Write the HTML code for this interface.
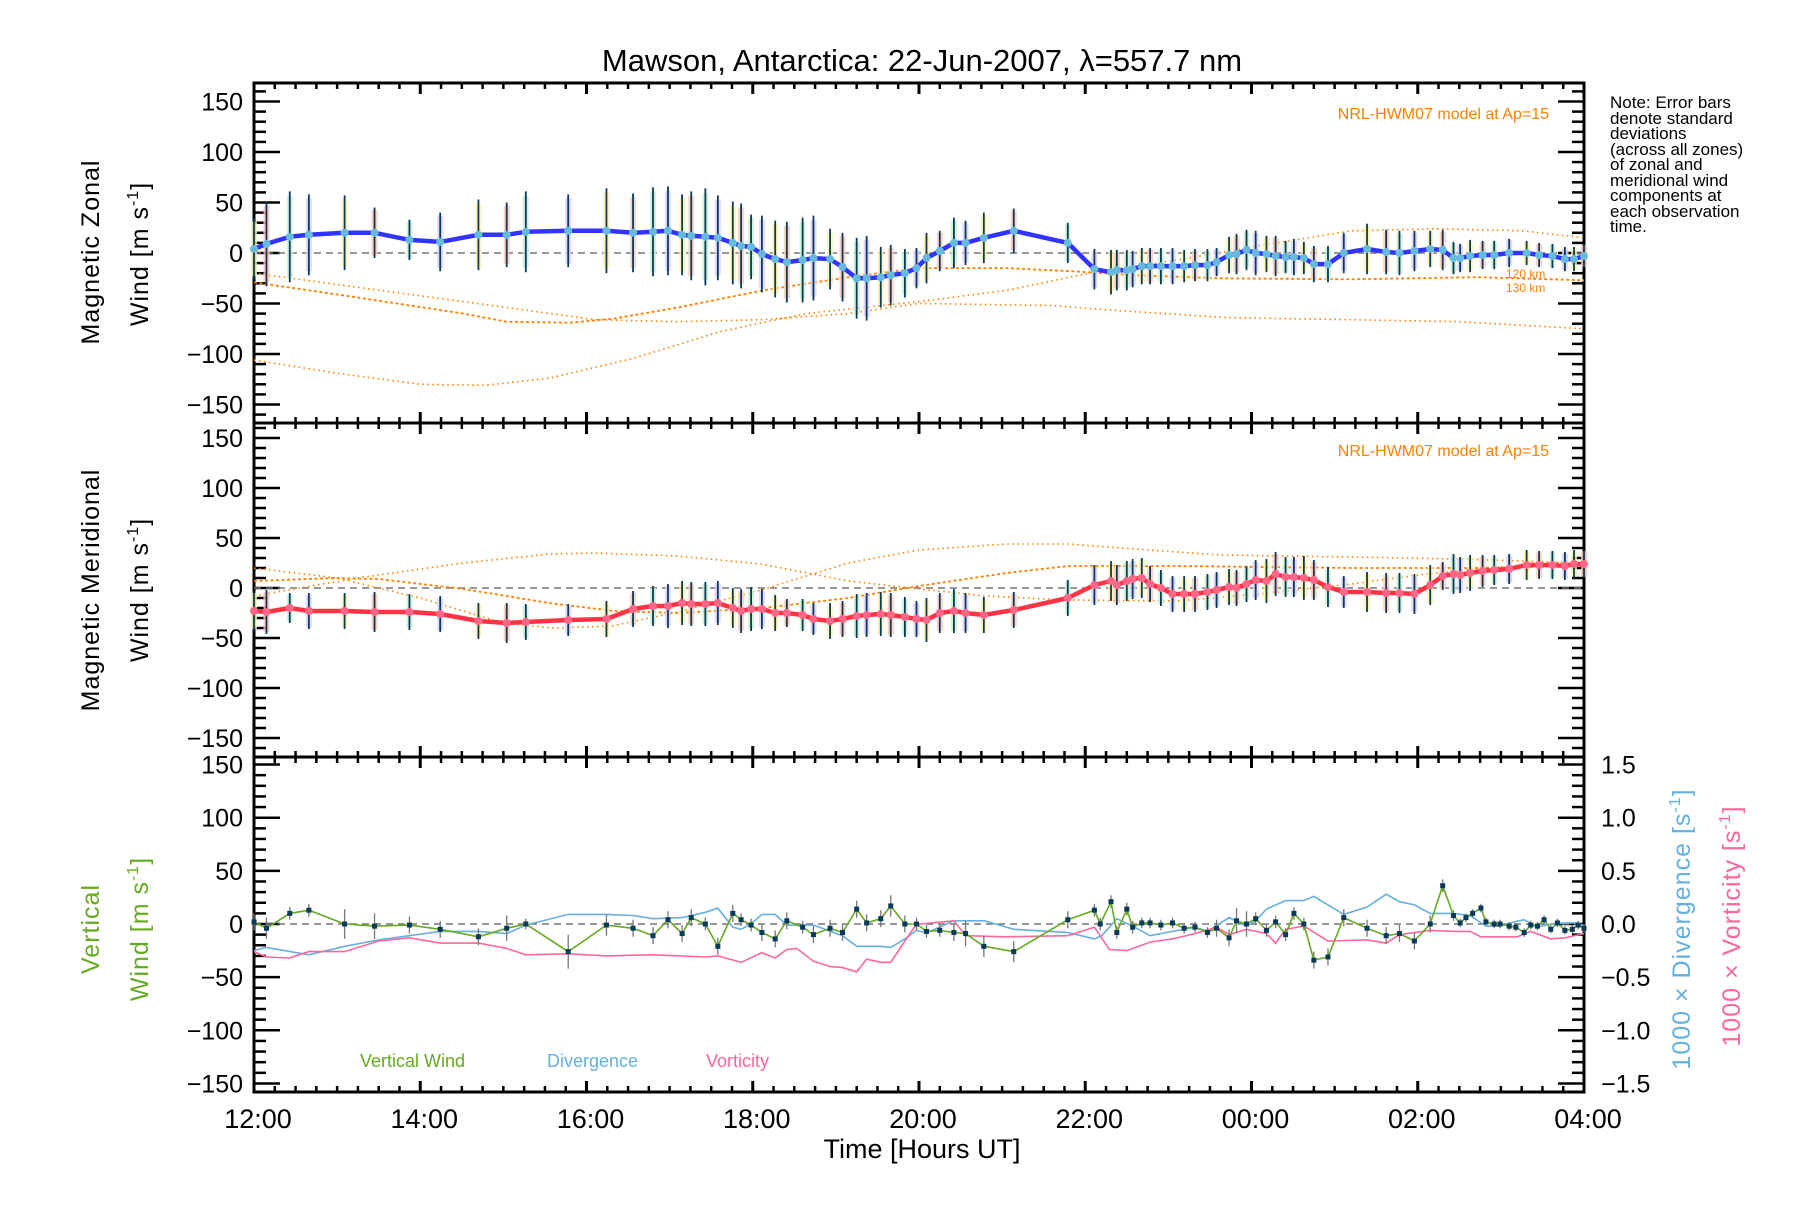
<!DOCTYPE html>
<html><head><meta charset="utf-8"><title>Mawson winds</title>
<style>
html,body{margin:0;padding:0;background:#fff;}
svg text{font-family:"Liberation Sans",sans-serif;}
</style></head>
<body>
<svg id="chart" xmlns="http://www.w3.org/2000/svg" width="1800" height="1200" viewBox="0 0 1800 1200">
<rect width="1800" height="1200" fill="#fff"/>
<text x="922" y="71" font-size="31" text-anchor="middle" fill="#000">Mawson, Antarctica: 22-Jun-2007, λ=557.7 nm</text>
<g id="layer"></g>
<text transform="translate(99,252) rotate(-90)" font-size="25" text-anchor="middle" letter-spacing="1">Magnetic Zonal</text>
<text transform="translate(148,254) rotate(-90)" font-size="25" text-anchor="middle" letter-spacing="1">Wind [m s<tspan font-size="16" dy="-10">-1</tspan><tspan dy="10">]</tspan></text>
<text transform="translate(99,590) rotate(-90)" font-size="25" text-anchor="middle" letter-spacing="1">Magnetic Meridional</text>
<text transform="translate(148,590) rotate(-90)" font-size="25" text-anchor="middle" letter-spacing="1">Wind [m s<tspan font-size="16" dy="-10">-1</tspan><tspan dy="10">]</tspan></text>
<text transform="translate(99,929) rotate(-90)" font-size="25" text-anchor="middle" fill="#66aa22" letter-spacing="1">Vertical</text>
<text transform="translate(148,929) rotate(-90)" font-size="25" text-anchor="middle" fill="#66aa22" letter-spacing="1">Wind [m s<tspan font-size="16" dy="-10">-1</tspan><tspan dy="10">]</tspan></text>
<text transform="translate(1690,929) rotate(-90)" font-size="25" text-anchor="middle" fill="#66b0dd" letter-spacing="1">1000 × Divergence [s<tspan font-size="16" dy="-10">-1</tspan><tspan dy="10">]</tspan></text>
<text transform="translate(1740,926) rotate(-90)" font-size="25" text-anchor="middle" fill="#ff6699" letter-spacing="1">1000 × Vorticity [s<tspan font-size="16" dy="-10">-1</tspan><tspan dy="10">]</tspan></text>
<text x="922" y="1158" font-size="27" text-anchor="middle">Time [Hours UT]</text>
<text x="1549" y="119" font-size="16" text-anchor="end" fill="#ff8000">NRL-HWM07 model at Ap=15</text>
<text x="1549" y="456" font-size="16" text-anchor="end" fill="#ff8000">NRL-HWM07 model at Ap=15</text>
<text x="1506" y="278" font-size="12" fill="#ff8000">120 km</text>
<text x="1506" y="292" font-size="12" fill="#ff8000">130 km</text>
<text x="360" y="1067" font-size="18" fill="#66aa22">Vertical Wind</text>
<text x="547" y="1067" font-size="18" fill="#66b0dd">Divergence</text>
<text x="706" y="1067" font-size="18" fill="#ff6699">Vorticity</text>
<g font-size="17" fill="#000">
<text x="1610" y="108">Note: Error bars</text>
<text x="1610" y="124">denote standard</text>
<text x="1610" y="139">deviations</text>
<text x="1610" y="155">(across all zones)</text>
<text x="1610" y="170">of zonal and</text>
<text x="1610" y="186">meridional wind</text>
<text x="1610" y="201">components at</text>
<text x="1610" y="217">each observation</text>
<text x="1610" y="232">time.</text>
</g>
</svg>
<script>
// ---- data (hours after 12:00 UT) ----
const zonalHours=[0,0.15,0.43,0.66,1.09,1.45,1.87,2.24,2.7,3.04,3.27,3.78,4.24,4.56,4.8,4.98,5.15,5.26,5.43,5.58,5.76,5.86,5.98,6.11,6.27,6.41,6.6,6.73,6.93,7.08,7.25,7.37,7.54,7.66,7.83,7.97,
8.09,8.25,8.42,8.56,8.78,9.14,9.79,10.11,10.31,10.38,10.5,10.57,10.68,10.78,10.91,11.05,11.19,11.32,11.47,11.58,11.73,11.82,11.94,12.05,12.18,12.29,12.41,12.51,12.63,12.75,12.92,13.11,13.39,13.62,13.78,13.96,14.15,14.3,14.43,14.51,14.63,14.78,14.92,15.1,15.31,15.46,15.62,15.77,15.88,16.0];
const zonalWind=[4,9,16,18,20,20,13,11,18,18,21,22,22,20,21,22,18,17,16,15,10,7,6,-1,-6,-9,-7,-5,-6,-14,-25,-25,-24,-22,-20,-15,
-5,2,10,10,15,22,10,-16,-19,-17,-17,-16,-13,-13,-13,-13,-13,-12,-12,-9,-2,-1,3,0,-1,-3,-4,-4,-5,-11,-11,0,4,1,0,2,4,3,-5,-5,-3,-2,-2,0,0,-2,-3,-6,-6,-3];
const zonalErr=[30,42,45,40,37,25,20,29,35,32,40,36,42,39,44,44,40,44,48,42,41,42,32,38,38,40,42,42,30,34,40,42,30,30,24,20,
25,20,25,22,25,22,20,20,22,20,20,18,18,18,18,18,16,16,16,14,18,20,20,22,18,20,16,18,16,18,18,20,25,22,22,20,18,20,16,14,16,14,14,14,12,12,12,12,12,12];
const meridHours=zonalHours;
const meridWind=[-23,-24,-20,-23,-23,-24,-24,-26,-33,-35,-34,-32,-31,-21,-18,-18,-15,-16,-16,-15,-20,-23,-21,-21,-25,-25,-27,-31,-33,-31,-28,-27,-26,-27,-29,-31,
-32,-25,-23,-25,-27,-22,-10,3,7,3,7,9,10,4,0,-6,-6,-6,-4,-2,1,0,4,8,7,14,11,11,10,8,1,-4,-4,-5,-5,-6,3,12,14,13,15,17,18,19,23,23,23,22,24,24];
const meridErr=[20,22,15,18,18,20,18,18,18,20,18,16,18,18,20,22,22,22,22,22,20,22,22,20,18,14,16,16,18,18,22,22,22,22,20,18,
22,20,22,20,18,18,18,20,20,20,20,20,20,18,18,18,18,18,18,18,18,18,18,20,22,22,20,20,22,20,20,16,20,20,20,20,20,14,20,18,18,16,15,15,15,14,14,14,14,14];
const vertHours=[0,0.15,0.43,0.66,1.09,1.45,1.87,2.24,2.7,3.04,3.27,3.78,4.24,4.56,4.8,4.98,5.15,5.26,5.43,5.58,5.76,5.86,5.98,6.11,6.27,6.41,6.6,6.73,6.93,7.08,7.25,7.37,7.54,7.66,7.83,7.97,
8.09,8.25,8.42,8.56,8.78,9.14,9.79,10.11,10.18,10.31,10.38,10.5,10.57,10.68,10.78,10.91,11.05,11.19,11.32,11.47,11.58,11.73,11.82,11.94,12.05,12.18,12.29,12.41,12.51,12.63,12.75,12.92,13.11,13.39,13.62,13.78,13.96,14.15,14.3,14.43,14.51,14.58,14.66,14.76,14.82,14.92,14.99,15.1,15.18,15.28,15.36,15.44,15.52,15.6,15.68,15.77,15.86,15.93,16.0];
const vertWind=[2,-4,10,13,0,-2,-1,-5,-12,-4,0,-26,-1,-4,-11,4,-9,6,0,-21,10,4,-1,-8,-14,3,-3,-10,-4,-8,14,1,5,17,0,0,
-7,-6,-8,-9,-21,-26,4,13,0,21,-8,14,-3,1,1,-1,1,-4,-3,-8,-4,-13,3,0,5,-6,2,-10,10,0,-34,-31,6,-4,-11,-9,-16,0,36,8,1,6,10,15,2,0,0,-2,-3,-8,-1,-2,4,-5,1,-6,-5,-1,-4];
const vertErr=[8,10,6,6,14,12,8,8,8,12,5,16,10,8,8,8,8,8,6,8,8,6,6,8,8,8,6,8,8,8,8,8,8,10,8,6,
6,6,8,12,10,10,8,6,6,6,6,6,6,5,5,5,5,5,5,5,8,8,12,12,6,6,6,6,6,6,8,8,8,8,8,8,8,8,6,5,4,4,4,4,4,4,4,4,4,4,4,4,4,4,4,4,4,4,4];
const divHours=[0,0.15,0.66,1.09,1.5,1.87,2.24,2.7,3.04,3.27,3.78,4.24,4.56,4.8,5.15,5.43,5.58,5.76,5.86,5.98,6.11,6.27,6.41,6.73,7.08,7.25,7.54,7.66,7.83,7.97,8.01,8.1,8.42,8.79,9.14,9.57,9.79,10.11,10.2,10.38,10.57,10.78,11.05,11.32,11.47,11.73,11.94,12.05,12.18,12.41,12.63,12.75,13.11,13.39,13.62,13.78,13.96,14.15,14.43,14.63,14.82,14.99,15.16,15.28,15.44,15.6,15.77,15.93,16.0];
const divergence=[-0.25,-0.22,-0.29,-0.21,-0.15,-0.11,-0.07,-0.07,-0.09,-0.01,0.09,0.09,0.08,0.05,0.06,0.11,0.15,-0.03,-0.05,0,0.09,0.09,-0.01,-0.01,-0.11,-0.21,-0.21,-0.22,-0.14,-0.06,-0.07,-0.08,0.03,0.03,-0.05,-0.07,-0.08,-0.14,-0.11,0.05,-0.02,-0.11,-0.07,-0.03,-0.07,0.06,-0.02,0.03,0.14,0.22,0.22,0.26,0.09,0.16,0.28,0.21,0.18,0.10,0.10,0.08,-0.02,-0.02,0.02,0.04,-0.03,0,0.01,0.01,-0.02];
const vortHours=[0,0.15,0.43,0.66,1.09,1.5,1.87,2.24,2.7,3.04,3.27,3.78,4.24,4.8,5.43,5.58,5.86,6.11,6.27,6.41,6.53,6.73,6.93,7.08,7.25,7.37,7.54,7.66,7.83,7.97,8.01,8.42,8.56,9.05,9.79,10.11,10.29,10.5,10.78,11.05,11.32,11.58,11.73,11.94,12.18,12.29,12.41,12.63,12.92,13.39,13.62,13.78,14.15,14.43,14.63,14.76,14.94,15.2,15.36,15.6,15.77,16.0];
const vorticity=[-0.26,-0.31,-0.32,-0.26,-0.26,-0.16,-0.13,-0.18,-0.18,-0.23,-0.29,-0.28,-0.30,-0.29,-0.31,-0.30,-0.36,-0.27,-0.32,-0.24,-0.23,-0.35,-0.40,-0.41,-0.45,-0.33,-0.36,-0.36,-0.16,0,0,0.03,-0.11,-0.12,-0.11,-0.03,-0.24,-0.25,-0.17,-0.14,-0.09,-0.03,-0.10,-0.05,-0.09,-0.18,-0.05,-0.02,-0.16,-0.15,-0.18,-0.10,-0.06,-0.07,-0.07,-0.12,-0.12,-0.12,-0.07,-0.14,-0.13,-0.09];
// model curves (HWM07), zonal panel
const modelZA_h=[0,3.04,4.1,5.1,6.1,7.15,8.0,9.6,10.4,11.7,13.2,14.5,16];
const modelZA_v=[-20,-54,-66,-68,-66,-60,-50,-52,-57,-64,-66,-68,-75];
const modelZB_h=[0,1.24,2.52,3.04,3.8,4.33,5.1,6.12,7.15,8.0,9.05,9.83,10.6,11.63,13.2,14.73,16];
const modelZB_v=[-29,-44,-60,-68,-69,-65,-54,-37,-24,-15,-15,-18,-22,-25,-26,-24,-27];
const modelZC_h=[0,1.0,2.0,2.78,3.55,4.58,5.6,6.64,7.67,8.01,9.05,10.1,11.1,12.16,13.2,14.24,15.26,16];
const modelZC_v=[-106,-119,-130,-131,-124,-104,-78,-60,-51,-48,-37,-19,-7,8,22,24,22,15];
// model curves, meridional panel
const modelMA_h=[0,1.0,2.0,3.0,3.6,4.3,5.1,6.1,7.15,8.0,9.05,9.8,10.6,11.63,13.2,14.5,16];
const modelMA_v=[20,10,-10,-35,-40,-38,-24,-2,25,38,44,44,39,33,31,29,25];
const modelMB_h=[0,0.98,1.5,2.52,3.55,4.33,5.1,6.12,7.15,8.0,9.05,9.8,11.1,13.2,14.7,16];
const modelMB_v=[7,10,9,-1,-15,-23,-25,-20,-10,2,15,22,22,20,20,22];
const modelMC_h=[0,1.24,2.52,3.55,4.1,5.1,6.1,7.15,7.9,8.8,9.8,11.1,12.1,13.2,14.2,15.26,16];
const modelMC_v=[-8,10,25,34,35,32,24,7,0,-8,-12,-13,-6,4,15,23,27];
const yTicksWind=[150,100,50,0,-50,-100,-150];
const yTicksRight=["1.5","1.0","0.5","0.0","-0.5","-1.0","-1.5"];
const xTickLabels=["12:00","14:00","16:00","18:00","20:00","22:00","00:00","02:00","04:00"];

// ---- layout ----
const NS="http://www.w3.org/2000/svg";
const layer=document.getElementById('layer');
const X0=254,X1=1584,PXH=(X1-X0)/16;
const panels=[{top:83,bot:423,zero:253,k:1.01,name:'zonal'},{top:423,bot:757,zero:588,k:1.0,name:'meridional'},{top:757,bot:1092,zero:924,k:1.063,name:'vertical'}];
function xs(h){return X0+h*PXH;}
function ys(p,v){return p.zero-v*p.k;}
function mk(tag,attrs,parent){const e=document.createElementNS(NS,tag);for(const k in attrs)e.setAttribute(k,attrs[k]);(parent||layer).appendChild(e);return e;}
function poly(p,hs,vs,style,name,scale){
  let d='';for(let i=0;i<hs.length;i++){d+=(i?'L':'M')+xs(hs[i]).toFixed(1)+','+ys(p,vs[i]*(scale||1)).toFixed(1);}
  const e=mk('path',Object.assign({d:d,fill:'none'},style));
  
  
  return e;
}

// axes
panels.forEach((p,pi)=>{
  const g=mk('g',{});
  
  
  for(let v=-160;v<=160;v+=10){
    const y=ys(p,v); if(y<p.top+2||y>p.bot-2) continue;
    const major=v%50===0; const L=major?26:12;
    mk('line',{x1:X0,y1:y,x2:X0+L,y2:y,stroke:'#000','stroke-width':2.5},g);
    mk('line',{x1:X1,y1:y,x2:X1-L,y2:y,stroke:'#000','stroke-width':2.5},g);
  }
  for(let m=0;m<=16*4;m++){
    const x=xs(m/4); const major=m%8===0; const L=major?11:6;
    mk('line',{x1:x,y1:p.top,x2:x,y2:p.top+L,stroke:'#000','stroke-width':major?3:2.5},g);
    mk('line',{x1:x,y1:p.bot,x2:x,y2:p.bot-L,stroke:'#000','stroke-width':major?3:2.5},g);
  }
  mk('rect',{x:X0,y:p.top,width:X1-X0,height:p.bot-p.top,fill:'none',stroke:'#000','stroke-width':3},g);
  const z=mk('line',{x1:X0,y1:p.zero,x2:X1,y2:p.zero,stroke:'#777','stroke-width':1.5,'stroke-dasharray':'7,5'});
  
  
  yTicksWind.forEach(v=>{
    const t=mk('text',{x:243,y:ys(p,v)+9,'font-size':25,'text-anchor':'end'});
    t.textContent=(v<0?'\u2212'+(-v):String(v));
    
    
  });
});
yTicksRight.forEach((s,i)=>{
  const p=panels[2];
  const t=mk('text',{x:1601,y:ys(p,150-50*i)+9,'font-size':25});
  t.textContent=s.replace('-','\u2212');
  
  
});
xTickLabels.forEach((s,i)=>{
  const t=mk('text',{x:xs(2*i)+4,y:1128,'font-size':27,'text-anchor':'middle'});
  t.textContent=s;
  
  
});

const P1=panels[0],P2=panels[1],P3=panels[2];
const dot={stroke:'#ff8000','stroke-width':1.6,'stroke-dasharray':'1.5,3.5'};
const dash={stroke:'#ff8000','stroke-width':1.8,'stroke-dasharray':'3,2.5'};
poly(P1,modelZA_h,modelZA_v,dot,'model-zonal-a');
poly(P1,modelZB_h,modelZB_v,dash,'model-zonal-b');
poly(P1,modelZC_h,modelZC_v,dot,'model-zonal-c');
poly(P2,modelMA_h,modelMA_v,dot,'model-meridional-a');
poly(P2,modelMB_h,modelMB_v,dash,'model-meridional-b');
poly(P2,modelMC_h,modelMC_v,dot,'model-meridional-c');

function windSeries(p,hs,vs,es,lineColor,ptColor,name){
  const pal=['#fff3a8','#ffc8b8','#c8f0d0','#d8d0f8'];
  for(let i=0;i<hs.length;i++){
    const x=xs(hs[i]);
    const b=mk('rect',{x:x-3,y:ys(p,vs[i]+es[i]*0.9),width:6,height:es[i]*1.8*p.k,fill:pal[i%4],opacity:0.8});
    
    
  }
  for(let i=0;i<hs.length;i++){
    const x=xs(hs[i]);
    const e=mk('line',{x1:x,y1:ys(p,vs[i]+es[i]),x2:x,y2:ys(p,vs[i]-es[i]),stroke:'#0a3a5a','stroke-width':1.8});
    
    
  }
  poly(p,hs,vs,{stroke:lineColor,'stroke-width':4.5,'stroke-linejoin':'round'},name+'-line');
  for(let i=0;i<hs.length;i++){
    const c=mk('circle',{cx:xs(hs[i]),cy:ys(p,vs[i]),r:4,fill:ptColor});
    
    
  }
}
windSeries(P1,zonalHours,zonalWind,zonalErr,'#3333ff','#66bbdd','zonal');
windSeries(P2,meridHours,meridWind,meridErr,'#ff3344','#ff6688','meridional');

poly(P3,divHours,divergence,{stroke:'#66b0dd','stroke-width':1.6},'divergence-line',100);
poly(P3,vortHours,vorticity,{stroke:'#ff6699','stroke-width':1.6},'vorticity-line',100);
for(let i=0;i<vertHours.length;i++){
  const x=xs(vertHours[i]);
  const e=mk('line',{x1:x,y1:ys(P3,vertWind[i]+vertErr[i]),x2:x,y2:ys(P3,vertWind[i]-vertErr[i]),stroke:'#777','stroke-width':1.3});
  
  
}
poly(P3,vertHours,vertWind,{stroke:'#66aa22','stroke-width':1.6},'vertical-wind-line');
for(let i=0;i<vertHours.length;i++){
  const r=mk('rect',{x:xs(vertHours[i])-2.5,y:ys(P3,vertWind[i])-2.5,width:5,height:5,fill:'#0a3a5a'});
  
  
}
</script>
</body></html>
